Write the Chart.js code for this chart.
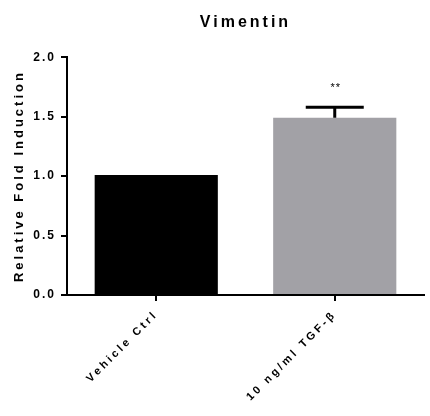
<!DOCTYPE html>
<html>
<head>
<meta charset="utf-8">
<script src="https://cdn.jsdelivr.net/npm/chart.js@4"></script>
<style>
  html, body { margin: 0; padding: 0; background: #fff; }
  #wrap { width: 430px; height: 416px; }
</style>
</head>
<body>
<div id="wrap"><canvas id="chart" width="430" height="416"></canvas></div>
<script>
const categories = ['Vehicle Ctrl', '10 ng/ml TGF-β'];
const foldValues = [1.01, 1.49];
const foldErrors = [0, 0.09];
const significance = ['', '**'];
const yTicks = [0, 0.5, 1.0, 1.5, 2.0];

const FONT = "'Liberation Sans', Arial, sans-serif";

// spaced-out lettering like the original export
const spacing = {
    id: 'spacing',
    beforeLayout(chart) { chart.ctx.letterSpacing = '3px'; },
    beforeDraw(chart) { chart.ctx.letterSpacing = '3px'; }
};

// error bar caps and the ** marks, placed through the scales
const errorBars = {
    id: 'errorBars',
    afterDatasetsDraw(chart) {
        const ctx = chart.ctx;
        const x = chart.scales.x;
        const y = chart.scales.y;
        ctx.save();
        ctx.strokeStyle = '#000';
        ctx.lineWidth = 3;
        foldValues.forEach((v, i) => {
            const cx = x.getPixelForValue(i);
            let top = y.getPixelForValue(v);
            if (foldErrors[i] > 0) {
                top = y.getPixelForValue(v + foldErrors[i]);
                ctx.beginPath();
                ctx.moveTo(cx, y.getPixelForValue(v));
                ctx.lineTo(cx, top);
                ctx.moveTo(cx - 29, top);
                ctx.lineTo(cx + 29, top);
                ctx.stroke();
            }
            if (significance[i]) {
                ctx.fillStyle = '#000';
                ctx.letterSpacing = '1px';
                ctx.font = '11px ' + FONT;
                ctx.textAlign = 'center';
                ctx.textBaseline = 'middle';
                ctx.fillText(significance[i], cx + 1, top - 19);
            }
        });
        ctx.restore();
    }
};

new Chart(document.getElementById('chart'), {
    type: 'bar',
    data: {
        labels: categories,
        datasets: [{
            data: foldValues,
            backgroundColor: ['#000000', '#a2a1a6'],
            borderWidth: 0,
            barPercentage: 0.69,
            categoryPercentage: 1
        }]
    },
    options: {
        responsive: false,
        animation: false,
        devicePixelRatio: 1,
        layout: { padding: { left: 12, right: 6, top: 13, bottom: 4 } },
        plugins: {
            legend: { display: false },
            tooltip: { enabled: false },
            title: {
                display: true,
                text: 'Vimentin',
                fullSize: false,
                color: '#000',
                font: { family: FONT, size: 16, weight: 'bold' },
                padding: { top: 0, bottom: 25 }
            }
        },
        scales: {
            x: {
                offset: true,
                grid: { offset: false, drawOnChartArea: false, drawTicks: true, tickLength: 6, tickColor: '#000', lineWidth: 2 },
                border: { color: '#000', width: 2 },
                ticks: {
                    color: '#000',
                    font: { family: FONT, size: 11, weight: 'bold' },
                    minRotation: 45,
                    maxRotation: 45,
                    padding: 7
                },
                afterFit(scale) { scale.height = 117; }
            },
            y: {
                min: 0,
                max: 2,
                afterBuildTicks(scale) { scale.ticks = yTicks.map(v => ({ value: v })); },
                grid: { drawOnChartArea: false, drawTicks: true, tickLength: 6, tickColor: '#000', lineWidth: 2 },
                border: { color: '#000', width: 2 },
                ticks: {
                    color: '#000',
                    font: { family: FONT, size: 12, weight: 'bold' },
                    padding: 5,
                    callback: v => Number(v).toFixed(1)
                },
                title: {
                    display: true,
                    text: 'Relative Fold Induction',
                    color: '#000',
                    font: { family: FONT, size: 13, weight: 'bold' },
                    padding: { top: 0, bottom: 6 }
                },
                afterFit(scale) {
                    scale.width = 55;
                    // tighter spacing for the numeric tick labels
                    if (!scale._patched) {
                        const orig = scale.drawLabels;
                        scale.drawLabels = function (area) {
                            this.ctx.letterSpacing = '2px';
                            orig.call(this, area);
                            this.ctx.letterSpacing = '3px';
                        };
                        scale._patched = true;
                    }
                }
            }
        }
    },
    plugins: [spacing, errorBars]
});
</script>
</body>
</html>
